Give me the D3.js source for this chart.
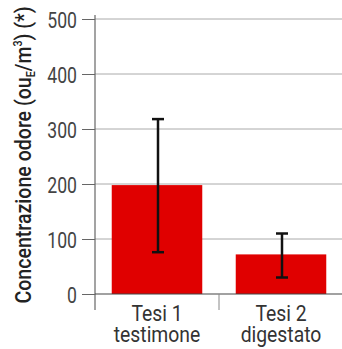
<!DOCTYPE html>
<html><head><meta charset="utf-8">
<script src="https://cdn.jsdelivr.net/npm/d3@7"></script>
<style>body{margin:0;background:#fff}svg{display:block}</style>
</head><body><svg id="c" width="342" height="349"></svg>
<script>
const categories = ["Tesi 1|testimone", "Tesi 2|digestato"];
const values = [198, 72];
const errLow = [76, 30];
const errHigh = [318, 110];
const yTicks = [0, 100, 200, 300, 400, 500];

const svg = d3.select("#c");
const font = "Roboto,'Liberation Sans',sans-serif";
const m = {left: 95, right: 342, top: 19, bottom: 294};
const x = d3.scaleBand().domain(categories).range([m.left, 343]).paddingInner(0.27).paddingOuter(0.135);
const y = d3.scaleLinear().domain([0, 500]).range([m.bottom, m.top]);

// gridlines
svg.append("g").selectAll("line").data(yTicks.filter(d => d > 0)).join("line")
  .attr("x1", m.left).attr("x2", 342).attr("y1", d => y(d)).attr("y2", d => y(d))
  .attr("stroke", "#aaa").attr("stroke-width", 1);

// y axis
const ya = svg.append("g").attr("transform", `translate(${m.left},0)`)
  .call(d3.axisLeft(y).tickValues(yTicks).tickSize(13).tickPadding(0));
ya.select(".domain").remove();
ya.selectAll(".tick line").attr("stroke", "#666");
ya.selectAll(".tick text").each(function() {
  const t = d3.select(this);
  t.attr("x", null).attr("dy", null)
   .attr("transform", "translate(-18,8) scale(0.8,1)")
   .attr("font-family", font).attr("font-size", 22).attr("fill", "#444");
});
svg.append("line").attr("x1", m.left).attr("x2", m.left).attr("y1", 15).attr("y2", 310)
  .attr("stroke", "#666").attr("stroke-width", 1.2);

// bars
svg.append("g").selectAll("rect").data(values).join("rect")
  .attr("x", (d, i) => x(categories[i])).attr("width", x.bandwidth())
  .attr("y", d => y(d)).attr("height", d => y(0) - y(d))
  .attr("fill", "#e00000");

// x axis line and ticks
svg.append("line").attr("x1", m.left).attr("x2", 342).attr("y1", y(0)).attr("y2", y(0))
  .attr("stroke", "#444").attr("stroke-width", 1.2);
const step = x.step();
const bounds = categories.map(c => x(c) - x.paddingInner() * step / 2).concat([x(categories[1]) + x.bandwidth() + x.paddingInner() * step / 2]);
svg.append("g").selectAll("line").data(bounds.slice(1)).join("line")
  .attr("x1", d => d).attr("x2", d => d).attr("y1", y(0)).attr("y2", 310)
  .attr("stroke", "#888").attr("stroke-width", 1);

// error bars
const eg = svg.append("g").attr("stroke", "#111").attr("stroke-width", 2.5);
categories.forEach((c, i) => {
  const cx = x(c) + x.bandwidth() / 2 + 1;
  eg.append("line").attr("x1", cx).attr("x2", cx).attr("y1", y(errHigh[i])).attr("y2", y(errLow[i]));
  eg.append("line").attr("x1", cx - 6).attr("x2", cx + 6).attr("y1", y(errHigh[i])).attr("y2", y(errHigh[i]));
  eg.append("line").attr("x1", cx - 6).attr("x2", cx + 6).attr("y1", y(errLow[i])).attr("y2", y(errLow[i]));
});

// x labels
categories.forEach(c => {
  const [a, b] = c.split("|");
  const cx = x(c) + x.bandwidth() / 2;
  [[a, 321], [b, 342]].forEach(([s, by]) => {
    svg.append("text").attr("text-anchor", "middle").attr("font-family", font)
      .attr("font-size", 21.5).attr("fill", "#333")
      .attr("transform", `translate(${cx},${by}) scale(0.9,1)`).text(s);
  });
});

// y title
const yt = svg.append("text").attr("transform", "translate(31,155) rotate(-90) scale(0.89,1)")
  .attr("text-anchor", "middle").attr("font-family", font).attr("font-size", 22)
  .attr("font-weight", 500).attr("fill", "#222");
yt.append("tspan").text("Concentrazione odore (ou");
yt.append("tspan").attr("font-size", 12).attr("dy", 4).text("E");
yt.append("tspan").attr("dy", -4).text("/m");
yt.append("tspan").attr("font-size", 12).attr("dy", -9).text("3");
yt.append("tspan").attr("dy", 9).text(") (*)");
</script></body></html>
